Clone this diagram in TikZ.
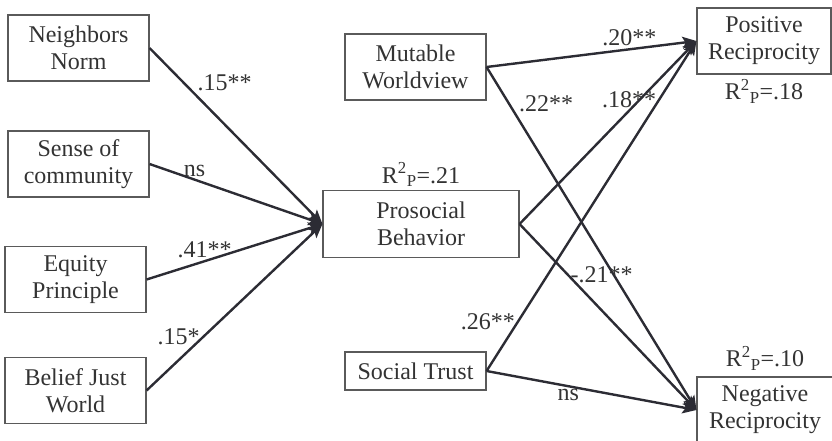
\documentclass[tikz,border=0pt]{standalone}
\usepackage{fontspec}
\setmainfont{Liberation Serif}
\usetikzlibrary{positioning,arrows.meta}
\definecolor{linegray}{HTML}{2C2C34}
\definecolor{boxgray}{HTML}{5A5A5A}
\definecolor{txtgray}{HTML}{333333}
\newcommand{\rsq}[1]{R\textsuperscript{2}\textsubscript{P}=#1}

\begin{document}
\begin{tikzpicture}[x=1pt, y=-1pt, node distance=2pt,
    box/.style={draw=boxgray, line width=1.1pt, align=center, minimum width=141pt,
      minimum height=66pt, inner sep=2pt, text=txtgray, font=\fontsize{24}{27}\selectfont},
    lbl/.style={inner sep=2pt, text=txtgray, font=\fontsize{24}{27}\selectfont},
    >={Stealth[length=14pt,width=12pt,inset=3pt]}]
  \useasboundingbox (0,0) rectangle (832,440);
      \node[box] (nn) at (78.5,48) {Neighbors\\Norm};
      \node[box] (sc) at (78.5,164) {Sense of\\community};
      \node[box] (ep) at (75.5,279.5) {Equity\\Principle};
      \node[box] (bj) at (75.5,390.5) {Belief Just\\World};
      \node[box, minimum width=196pt, minimum height=67pt] (pb) at (421,224) {Prosocial\\Behavior};
      \node[lbl] (rpb) [above=1pt of pb] {\rsq{.21}};
      \node[box] (mw) at (415.5,67) {Mutable\\Worldview};
      \node[box, minimum height=38pt] (st) at (415.5,371) {Social Trust};
      \node[box, minimum width=134pt] (pr) at (764,41) {Positive\\Reciprocity};
      \node[lbl] (rpr) [below=3pt of pr] {\rsq{.18}};
      \node[box, minimum width=136pt] (nr) at (765,410) {Negative\\Reciprocity};
      \node[lbl] (rnr) [above=4pt of nr] {\rsq{.10}};
    \begin{scope}[draw=linegray, line width=2.4pt]
    \draw [->] (nn.east) to node [lbl,pos=0.26,above right]{.15**} (pb.west);
    \draw [->] (sc.east) to node [lbl,pos=0.26,above]{ns} (pb.west);
    \draw [->] (ep.east) to node [lbl,pos=0.33,above]{.41**} (pb.west);
    \draw [->] (bj.east) to node [lbl,pos=0.32,left]{.15*} (pb.west);
    \draw [->] (mw.east) to node [lbl,pos=0.68,above]{.20**} (pr.west);
    \draw [->] (mw.east) to node [lbl,pos=0.14,above right]{.22**} (nr.west);
    \draw [->] (pb.east) to node [lbl,pos=0.62,above]{.18**} (pr.west);
    \draw [->] (pb.east) to node [lbl,pos=0.27,right]{-.21**} (nr.west);
    \draw [->] (st.east) to node [lbl,pos=0.15,left]{.26**} (pr.west);
    \draw [->] (st.east) to node [lbl,pos=0.39,below]{ns} (nr.west);
    \end{scope}
      \end{tikzpicture}
\end{document}
